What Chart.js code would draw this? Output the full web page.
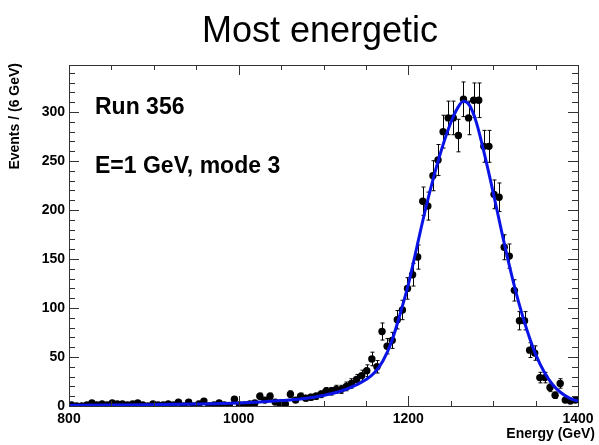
<!DOCTYPE html>
<html>
<head>
<meta charset="utf-8">
<title>Most energetic</title>
<script src="https://cdn.jsdelivr.net/npm/chart.js@4.4.1/dist/chart.umd.min.js"></script>
<style>
    html, body { margin: 0; padding: 0; background: #ffffff; }
    #wrap { width: 599px; height: 445px; }
</style>
</head>
<body>
<div id="wrap"><canvas id="energyChart" width="599" height="445"></canvas></div>
<script>
// histogram binning: 800 - 1400 GeV, 6 GeV per bin
var binStart = 800;
var binWidth = 6;

// events per bin
var counts = [
    1, 0, 0, 1, 3, 1, 2, 1, 3, 2,
    2, 1, 2, 3, 1, 0, 2, 1, 1, 2,
    1, 4, 0, 4, 0, 2, 5, 0, 1, 3,
    1, 0, 7, 1, 1, 2, 3, 10, 6, 10,
    4, 2, 2, 12, 6, 10, 8, 9, 10, 12,
    15, 15, 17, 17, 20, 23, 27, 31, 36, 48,
    40, 76, 61, 67, 88, 98, 120, 134, 152, 209,
    204, 235, 251, 280, 294, 294, 276, 313, 294, 312,
    312, 265, 265, 216, 213, 162, 153, 118, 87, 87,
    57, 54, 29, 29, 19, 11, 23, 6, 5, 6
];

// fitted curve (blue), sampled off the plot
var fitEnergy = [800, 850, 900, 950, 1000, 1025, 1050, 1075, 1100, 1120,
    1140, 1150, 1160, 1170, 1180, 1190, 1200, 1210, 1220, 1230,
    1240, 1250, 1258, 1265, 1272, 1280, 1290, 1300, 1310, 1320,
    1330, 1340, 1350, 1360, 1370, 1380, 1390, 1400];
var fitEvents = [0.8, 1.0, 1.4, 2.0, 3.0, 4.0, 5.5, 7.5, 10.8, 15,
    22, 27, 34, 46, 65, 93, 124, 162, 200, 234,
    264, 289, 304, 311, 307, 290, 256, 218, 178, 140,
    106, 77, 53, 35, 22, 13.5, 8, 5];

var xTickLabels = [800, 1000, 1200, 1400];
var yTickLabels = [0, 50, 100, 150, 200, 250, 300];

var FONT = '"Liberation Sans", Arial, Helvetica, sans-serif';

var points = [];
for (var i = 0; i < counts.length; i++) {
    points.push({ x: binStart + binWidth * (i + 0.5), y: counts[i] });
}
var fitPoints = [];
for (var j = 0; j < fitEnergy.length; j++) {
    fitPoints.push({ x: fitEnergy[j], y: fitEvents[j] });
}

// poisson error bars under the markers
var errorBars = {
    id: 'errorBars',
    beforeDatasetsDraw: function(chart) {
        var ctx = chart.ctx;
        var xs = chart.scales.x;
        var ys = chart.scales.y;
        ctx.save();
        ctx.strokeStyle = '#000000';
        ctx.lineWidth = 1;
        for (var i = 0; i < counts.length; i++) {
            var n = counts[i];
            var err = n > 0 ? Math.sqrt(n) : 1.15;
            var px = Math.round(xs.getPixelForValue(points[i].x)) + 0.5;
            var top = ys.getPixelForValue(n + err);
            var bot = ys.getPixelForValue(Math.max(n - err, 0));
            ctx.beginPath();
            ctx.moveTo(px, top);
            ctx.lineTo(px, bot);
            ctx.moveTo(px - 2, top);
            ctx.lineTo(px + 2, top);
            if (n > 0) {
                ctx.moveTo(px - 2, bot);
                ctx.lineTo(px + 2, bot);
            }
            ctx.stroke();
        }
        ctx.restore();
    }
};

// ROOT style frame with inward ticks on all four sides
var frameTicks = {
    id: 'frameTicks',
    afterDatasetsDraw: function(chart) {
        var ctx = chart.ctx;
        var a = chart.chartArea;
        var xs = chart.scales.x;
        var ys = chart.scales.y;
        var v, p, len;
        ctx.save();
        ctx.strokeStyle = '#333333';
        ctx.lineWidth = 1;
        ctx.strokeRect(Math.round(a.left) + 0.5, Math.round(a.top) + 0.5,
            Math.round(a.right - a.left), Math.round(a.bottom - a.top));
        ctx.beginPath();
        for (v = 800; v <= 1400; v += 50) {
            p = Math.round(xs.getPixelForValue(v)) + 0.5;
            len = (v % 200 === 0) ? 10 : 5;
            ctx.moveTo(p, a.bottom);
            ctx.lineTo(p, a.bottom - len);
            ctx.moveTo(p, a.top);
            ctx.lineTo(p, a.top + len);
        }
        for (v = 0; v <= ys.max; v += 10) {
            p = Math.round(ys.getPixelForValue(v)) + 0.5;
            len = (v % 50 === 0) ? 10 : 6;
            ctx.moveTo(a.left, p);
            ctx.lineTo(a.left + len, p);
            ctx.moveTo(a.right, p);
            ctx.lineTo(a.right - len, p);
        }
        ctx.stroke();
        ctx.restore();
    }
};

var labels = {
    id: 'labels',
    afterDraw: function(chart) {
        var ctx = chart.ctx;
        ctx.save();
        ctx.fillStyle = '#000000';
        ctx.textBaseline = 'alphabetic';

        ctx.font = '36px ' + FONT;
        ctx.textAlign = 'center';
        ctx.fillText('Most energetic', 320, 42);

        ctx.font = 'bold 23px ' + FONT;
        ctx.textAlign = 'left';
        ctx.fillText('Run 356', 95, 114);
        ctx.fillText('E=1 GeV, mode 3', 95, 173);

        ctx.font = 'bold 14px ' + FONT;
        ctx.textAlign = 'right';
        ctx.fillText('Energy (GeV)', 595, 438);

        ctx.translate(19, 63);
        ctx.rotate(-Math.PI / 2);
        ctx.textAlign = 'right';
        ctx.fillText('Events / (6 GeV)', 0, 0);
        ctx.restore();
    }
};

new Chart(document.getElementById('energyChart'), {
    type: 'scatter',
    data: {
        datasets: [{
            label: 'fit',
            data: fitPoints,
            showLine: true,
            borderColor: '#0a14e6',
            borderWidth: 3,
            pointRadius: 0,
            fill: false,
            cubicInterpolationMode: 'monotone'
        }, {
            label: 'data',
            data: points,
            pointRadius: 3.7,
            pointBackgroundColor: '#000000',
            pointBorderWidth: 0,
            showLine: false
        }]
    },
    options: {
        responsive: false,
        animation: false,
        layout: { padding: { top: 65, right: 21, bottom: 0, left: 0 } },
        plugins: {
            legend: { display: false },
            title: { display: false },
            tooltip: { enabled: false }
        },
        scales: {
            x: {
                type: 'linear',
                min: 800,
                max: 1400,
                grid: { display: false, drawTicks: false },
                border: { display: false },
                afterFit: function(s) { s.height = 39; },
                afterBuildTicks: function(s) {
                    s.ticks = xTickLabels.map(function(v) { return { value: v }; });
                },
                ticks: {
                    color: '#000000',
                    padding: 5,
                    maxRotation: 0,
                    font: { family: FONT, size: 14, weight: 'bold' },
                    callback: function(v) { return String(v); }
                }
            },
            y: {
                min: 0,
                max: 348,
                grid: { display: false, drawTicks: false },
                border: { display: false },
                afterFit: function(s) { s.width = 69; },
                afterBuildTicks: function(s) {
                    s.ticks = yTickLabels.map(function(v) { return { value: v }; });
                },
                ticks: {
                    color: '#000000',
                    padding: 4,
                    font: { family: FONT, size: 14, weight: 'bold' },
                    callback: function(v) { return String(v); }
                }
            }
        }
    },
    plugins: [errorBars, frameTicks, labels]
});
</script>
</body>
</html>
